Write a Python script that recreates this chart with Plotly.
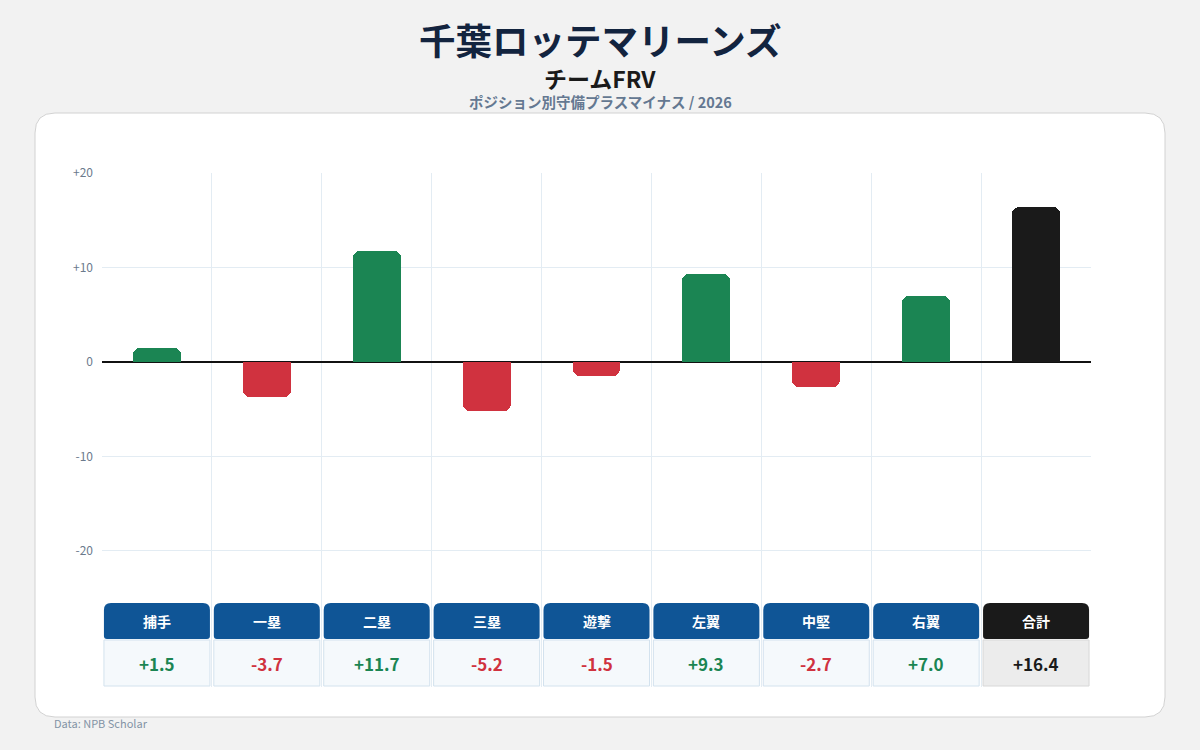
import plotly.graph_objects as go

team = "千葉ロッテマリーンズ"
chart_title = "チームFRV"
subtitle = "ポジション別守備プラスマイナス / 2026"
source = "Data: NPB Scholar"
positions = ["捕手", "一塁", "二塁", "三塁", "遊撃", "左翼", "中堅", "右翼", "合計"]
frv = [1.5, -3.7, 11.7, -5.2, -1.5, 9.3, -2.7, 7.0, 16.4]
y_tickvals = [-20, -10, 0, 10, 20]
y_ticktext = ["-20", "-10", "0", "+10", "+20"]

FONT = "Noto Sans CJK JP"
GREEN = "#1b8553"
RED = "#d0323f"
BLACK = "#1a1a1a"
BLUE = "#0f5596"

# plot area in pixels
L, R, T, B = 102, 1091, 173, 687
W, H = R - L, B - T

n = len(positions)
xs = list(range(n))
is_total = [p == "合計" for p in positions]
bar_colors = [BLACK if t else (GREEN if v >= 0 else RED) for v, t in zip(frv, is_total)]


def fmt(v):
    return f"+{v:.1f}" if v > 0 else f"{v:.1f}"


def rr(x0, y0, x1, y1, rt, rb):
    return (f"M{x0+rb},{y0} L{x1-rb},{y0} Q{x1},{y0} {x1},{y0+rb} "
            f"L{x1},{y1-rt} Q{x1},{y1} {x1-rt},{y1} L{x0+rt},{y1} "
            f"Q{x0},{y1} {x0},{y1-rt} L{x0},{y0+rb} Q{x0},{y0} {x0+rb},{y0} Z")


fig = go.Figure()
fig.add_trace(go.Bar(
    x=xs, y=frv, width=0.435,
    marker=dict(color=bar_colors, cornerradius=7, line=dict(width=0)),
    hoverinfo="skip",
))

shapes = []
# card background
shapes.append(dict(type="path", xref="paper", yref="paper", xsizemode="pixel", ysizemode="pixel",
                   xanchor=0, yanchor=0, path=rr(35 - L, B - 717, 1165 - L, B - 113, 20, 20),
                   fillcolor="white", line=dict(color="#d2d2d2", width=1), layer="below"))

annotations = []
for i, (p, v, t) in enumerate(zip(positions, frv, is_total)):
    # header cell
    shapes.append(dict(type="path", xref="x", yref="paper", xsizemode="pixel", ysizemode="pixel",
                       xanchor=i, yanchor=0, path=rr(-53, 48, 53, 84, 7, 3),
                       fillcolor=BLACK if t else BLUE, line=dict(width=0)))
    # value cell
    shapes.append(dict(type="path", xref="x", yref="paper", xsizemode="pixel", ysizemode="pixel",
                       xanchor=i, yanchor=0, path=rr(-53, 1, 53, 47, 0, 0),
                       fillcolor="#ececec" if t else "#f5f9fc",
                       line=dict(color="#d8d8d8" if t else "#d3e2ee", width=1)))
    annotations.append(dict(x=i, y=0, xref="x", yref="paper", yshift=66, showarrow=False,
                            text=f"<b>{p}</b>", font=dict(family=FONT, size=14, color="white"),
                            yanchor="middle"))
    vc = BLACK if t else (GREEN if v >= 0 else RED)
    annotations.append(dict(x=i, y=0, xref="x", yref="paper", yshift=24, showarrow=False,
                            text=f"<b>{fmt(v)}</b>", font=dict(family=FONT, size=17, color=vc),
                            yanchor="middle"))


def px(x):
    return (x - L) / W


def py(y):
    return (B - y) / H


annotations += [
    dict(x=px(600), y=py(39), xref="paper", yref="paper", showarrow=False, text=f"<b>{team}</b>",
         font=dict(family=FONT, size=36.5, color="#13243f"), yanchor="middle", height=40, valign="middle"),
    dict(x=px(600), y=py(78), xref="paper", yref="paper", showarrow=False, text=f"<b>{chart_title}</b>",
         font=dict(family=FONT, size=23, color="#1a1a1a"), yanchor="middle", height=26, valign="middle"),
    dict(x=px(600), y=py(101), xref="paper", yref="paper", showarrow=False, text=f"<b>{subtitle}</b>",
         font=dict(family=FONT, size=14.5, color="#647891"), yanchor="middle", height=18, valign="middle"),
    dict(x=px(52), y=py(723), xref="paper", yref="paper", showarrow=False, text=source,
         font=dict(family=FONT, size=11, color="#8393a5"), xanchor="left", yanchor="middle"),
]

fig.update_layout(
    width=1200, height=750,
    margin=dict(l=L, r=1200 - R, t=T, b=750 - B),
    paper_bgcolor="#f2f2f2", plot_bgcolor="rgba(0,0,0,0)",
    showlegend=False, bargap=0,
    font=dict(family=FONT),
    shapes=shapes, annotations=annotations,
    xaxis=dict(range=[-0.5, n - 0.5], tickvals=[k - 0.5 for k in range(n + 1)], showticklabels=False,
               showgrid=True, gridcolor="#e3ecf3", gridwidth=1, zeroline=False, ticks="", fixedrange=True),
    yaxis=dict(range=[-34.4, 20], tickvals=y_tickvals, ticktext=y_ticktext, showgrid=True,
               gridcolor="#e3ecf3", gridwidth=1, zeroline=True, zerolinecolor="#111111", zerolinewidth=1.5,
               tickfont=dict(family=FONT, size=12, color="#6b7a8c"), ticks="", ticklabelstandoff=8,
               fixedrange=True),
)

fig.write_html("out.html")
